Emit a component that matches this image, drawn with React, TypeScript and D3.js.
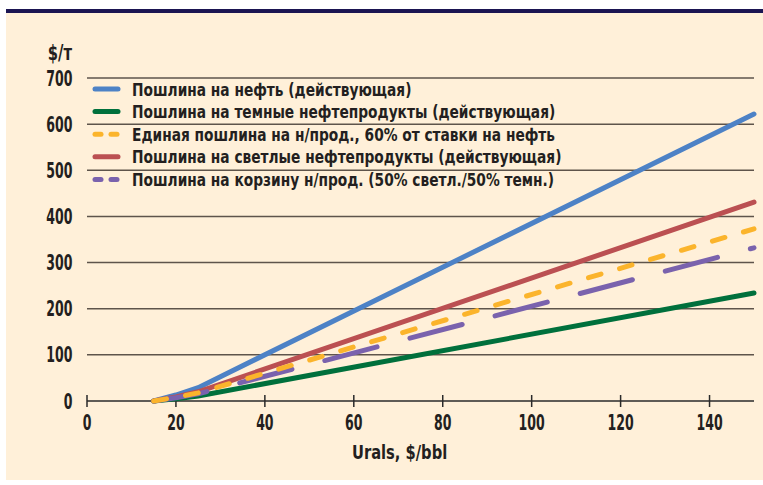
import React from "react";
import * as d3 from "d3";

const urals = [15, 20, 25, 150];
const crudeDuty = [0, 13, 29, 622];
const darkDuty = [0, 5, 11, 234];
const unifiedDuty = [0, 8, 17.5, 373];
const lightDuty = [0, 9, 20, 431];
const basketDuty = [0, 7, 15.5, 332];

const xTicks = [0, 20, 40, 60, 80, 100, 120, 140];
const yTicks = [0, 100, 200, 300, 400, 500, 600, 700];

const seriesNames = [
  "Пошлина на нефть (действующая)",
  "Пошлина на темные нефтепродукты (действующая)",
  "Единая пошлина на н/прод., 60% от ставки на нефть",
  "Пошлина на светлые нефтепродукты (действующая)",
  "Пошлина на корзину н/прод. (50% светл./50% темн.)",
];

const W = 763;
const H = 485;
const FONT = "'DejaVu Sans Condensed', 'DejaVu Sans', sans-serif";
const INK = "#231f20";

function T(props: {
  x: number;
  y: number;
  sx: number;
  size: number;
  anchor?: string;
  children: React.ReactNode;
}) {
  return (
    <text
      transform={`translate(${props.x},${props.y}) scale(${props.sx},1)`}
      textAnchor={props.anchor || "start"}
      fontSize={props.size}
      fontWeight="bold"
      fill={INK}
    >
      {props.children}
    </text>
  );
}

export default function App() {
  const x = d3.scaleLinear().domain([0, 150]).range([87, 754]);
  const y = d3.scaleLinear().domain([0, 700]).range([401, 78]);
  const line = d3
    .line<number>()
    .x((_, i) => x(urals[i]))
    .y((d) => y(d));

  const series = [
    { name: seriesNames[0], values: crudeDuty, color: "#4d82c6", dash: null },
    { name: seriesNames[1], values: darkDuty, color: "#00703c", dash: null },
    { name: seriesNames[2], values: unifiedDuty, color: "#fbb42c", dash: "13 19.3" },
    { name: seriesNames[3], values: lightDuty, color: "#bb5052", dash: null },
    { name: seriesNames[4], values: basketDuty, color: "#7a62ad", dash: "54 34" },
  ];
  const drawOrder = [0, 1, 3, 4, 2];

  return (
    <svg
      width={W}
      height={H}
      style={{ position: "absolute", left: 0, top: 0 }}
      fontFamily={FONT}
    >
      <rect x={0} y={0} width={W} height={H} fill="#ffffff" />
      <rect x={6} y={12} width={W - 6} height={468} fill="#fff0d9" />
      <rect x={6} y={9} width={W - 6} height={4} fill="#1b1552" />

      {yTicks.slice(1).map((t) => (
        <line
          key={t}
          x1={87}
          x2={754}
          y1={y(t)}
          y2={y(t)}
          stroke="#5e544b"
          strokeWidth={1.5}
        />
      ))}
      <line x1={87} x2={754} y1={y(0)} y2={y(0)} stroke="#2a2a2a" strokeWidth={1.5} />
      {xTicks.map((t) => (
        <line key={t} x1={x(t)} x2={x(t)} y1={395} y2={407} stroke="#2a2a2a" strokeWidth={1.5} />
      ))}

      {yTicks.map((t) => (
        <T key={t} x={72.5} y={y(t) + 7.5} sx={0.68} size={20.5} anchor="end">
          {t}
        </T>
      ))}
      <T x={72} y={60} sx={0.8} size={20.5} anchor="end">
        $/т
      </T>

      {xTicks.map((t) => (
        <T key={t} x={x(t)} y={429.5} sx={0.68} size={20.5} anchor="middle">
          {t}
        </T>
      ))}
      <T x={352} y={459} sx={0.86} size={19}>
        Urals, $/bbl
      </T>

      {drawOrder.map((i) => {
        const s = series[i];
        return (
          <path
            key={s.name}
            d={line(s.values) || ""}
            fill="none"
            stroke={s.color}
            strokeWidth={5}
            strokeLinecap="round"
            strokeDasharray={s.dash || undefined}
          />
        );
      })}

      {series.map((s, i) => {
        const cy = 89 + i * 22.6;
        return (
          <g key={s.name}>
            {s.dash ? (
              <>
                <line x1={95} x2={101} y1={cy} y2={cy} stroke={s.color} strokeWidth={5} strokeLinecap="round" />
                <line x1={111} x2={117} y1={cy} y2={cy} stroke={s.color} strokeWidth={5} strokeLinecap="round" />
              </>
            ) : (
              <line x1={95} x2={118} y1={cy} y2={cy} stroke={s.color} strokeWidth={5} strokeLinecap="round" />
            )}
            <T x={132} y={cy + 6.5} sx={0.9} size={17}>
              {s.name}
            </T>
          </g>
        );
      })}
    </svg>
  );
}
